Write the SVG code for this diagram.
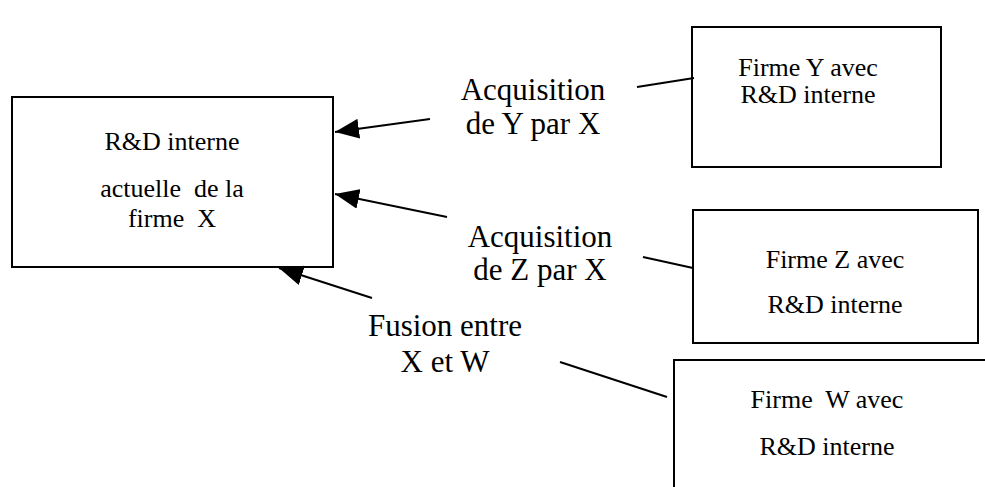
<svg xmlns="http://www.w3.org/2000/svg" width="985" height="487" viewBox="0 0 985 487">
  <style>
    .box { fill: #ffffff; stroke: #000000; stroke-width: 2; }
    .link { fill: none; stroke: #000000; stroke-width: 2; }
    text { font-family: "Liberation Serif", "Times New Roman", serif; fill: #000000; text-anchor: middle; }
    .boxtxt { font-size: 26px; }
    .lbl { font-size: 31px; }
  </style>
  <defs>
    <marker id="arrow" markerUnits="userSpaceOnUse" markerWidth="26" markerHeight="20" refX="24" refY="10" orient="auto">
      <path d="M0,0 L24,10 L0,20 Z" fill="#000000"/>
    </marker>
  </defs>
  <rect width="985" height="487" fill="#ffffff"/>

  <!-- Firm X: current internal R&D -->
  <g id="node-x">
    <rect class="box" x="12" y="97" width="321" height="170"/>
    <text class="boxtxt" x="172" y="150" xml:space="preserve">R&amp;D interne</text>
    <text class="boxtxt" x="172" y="197" xml:space="preserve">actuelle  de la</text>
    <text class="boxtxt" x="172" y="227" xml:space="preserve">firme  X</text>
  </g>

  <!-- Firm Y -->
  <g id="node-y">
    <rect class="box" x="692" y="27" width="249" height="140"/>
    <text class="boxtxt" x="808" y="76">Firme Y avec</text>
    <text class="boxtxt" x="808" y="103">R&amp;D interne</text>
  </g>

  <!-- Firm Z -->
  <g id="node-z">
    <rect class="box" x="693" y="210" width="285" height="133"/>
    <text class="boxtxt" x="835" y="268">Firme Z avec</text>
    <text class="boxtxt" x="835" y="313">R&amp;D interne</text>
  </g>

  <!-- Firm W (runs past the page edge) -->
  <g id="node-w">
    <rect class="box" x="674" y="360" width="330" height="150"/>
    <text class="boxtxt" x="827" y="408" xml:space="preserve">Firme  W avec</text>
    <text class="boxtxt" x="827" y="455">R&amp;D interne</text>
  </g>

  <!-- Relationship labels -->
  <g id="label-acq-y">
    <text class="lbl" x="533" y="100">Acquisition</text>
    <text class="lbl" x="533" y="134">de Y par X</text>
  </g>
  <g id="label-acq-z">
    <text class="lbl" x="540" y="247">Acquisition</text>
    <text class="lbl" x="540" y="280">de Z par X</text>
  </g>
  <g id="label-fusion">
    <text class="lbl" x="445" y="336">Fusion entre</text>
    <text class="lbl" x="445" y="372">X et W</text>
  </g>

  <!-- Connectors -->
  <g id="connectors">
    <line class="link" x1="430" y1="119" x2="335" y2="132" marker-end="url(#arrow)"/>
    <line class="link" x1="447" y1="217" x2="335" y2="194" marker-end="url(#arrow)"/>
    <line class="link" x1="372" y1="298" x2="279" y2="268" marker-end="url(#arrow)"/>
    <line class="link" x1="637" y1="87" x2="694" y2="78"/>
    <line class="link" x1="643" y1="257" x2="693" y2="268"/>
    <line class="link" x1="560" y1="362" x2="667" y2="397"/>
  </g>
</svg>
